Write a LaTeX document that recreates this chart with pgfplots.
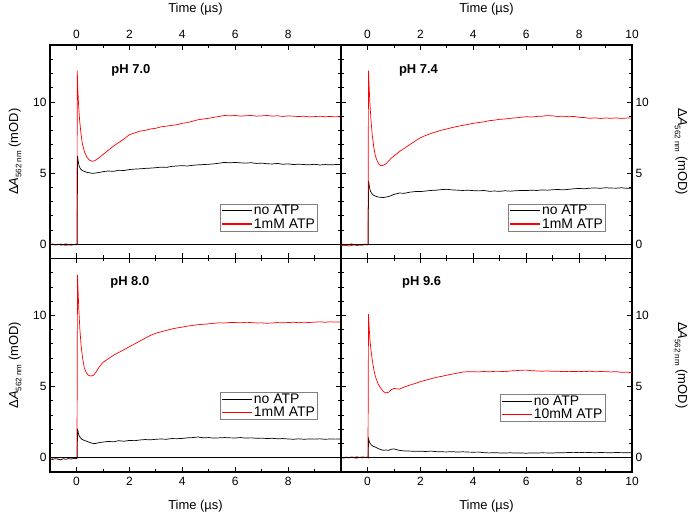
\documentclass[border=0pt]{standalone}
\usepackage{fontspec}
\setmainfont{Liberation Sans}
\usepackage{pgfplots}
\pgfplotsset{compat=1.18}
\pgfplotsset{
 panel/.style={
  width=291bp, height=213.5bp, scale only axis,
  xmin=-1, xmax=10, ymin=-1, ymax=14,
  ytick={0,5,10}, minor ytick={1,2,3,4,6,7,8,9,11,12,13},
  minor xtick={1,3,5,7,9},
  tick align=inside, major tick length=5bp, minor tick length=3bp,
  tick style={black, line width=0.8bp},
  axis line style={line width=1.1bp},
  tick label style={font=\fontsize{12}{14}\selectfont},
  label style={font=\fontsize{13}{15}\selectfont},
  /pgf/number format/assume math mode=true,
  legend style={draw=gray, line width=0.6bp, font=\fontsize{14}{15}\selectfont, inner xsep=1bp, inner ysep=0.5bp, row sep=0.5bp, cells={anchor=west}, nodes={inner xsep=1.5bp, inner ysep=0.8bp}},
  legend image code/.code={\draw[#1] (0bp,0bp) -- (30bp,0bp);},
 },
 toppanel/.style={xticklabel pos=upper, xticklabel style={yshift=3bp},
   xlabel style={at={(axis description cs:0.5,1.1686)}, anchor=center}},
 botpanel/.style={xticklabel style={yshift=-2bp},
   xlabel style={at={(axis description cs:0.5,-0.159)}, anchor=center}},
 leftpanel/.style={ylabel style={at={(axis description cs:-0.12,0.5)}, anchor=center, rotate=0}},
 rightpanel/.style={yticklabel pos=right, ylabel style={at={(axis description cs:1.169,0.5)}, anchor=center, rotate=180}},
 blk/.style={black, line width=0.7bp},
 rd/.style={red, line width=0.7bp},
}
\newcommand{\ylab}{Δ\textit{A}\raisebox{-0.5ex}{\fontsize{8}{9}\selectfont 562 nm} (mOD)}
\newcommand{\phfont}{\bfseries\fontsize{13}{15}\selectfont}
\newcommand{\leg}[1]{\addlegendimage{black, line width=1.2bp}\addlegendentry{no ATP}\addlegendimage{red, line width=1.2bp}\addlegendentry{#1}}
\begin{document}
\begin{tikzpicture}
\useasboundingbox (0,0) rectangle (692bp,519bp);
% ---------------- top left: pH 7.0
\begin{axis}[panel, toppanel, leftpanel, at={(50bp,260.5bp)}, anchor=south west,
  xtick={0,2,4,6,8}, xlabel={Time (µs)}, ylabel={\ylab},
  legend style={at={(axis cs:9.12,0.92)}, anchor=south east}]
\addplot[blk, forget plot] coordinates {(-1,-0.05) (-0.9,0.02) (-0.8,-0.03) (-0.7,0.01) (-0.6,-0.06) (-0.5,-0.02) (-0.4,0.03) (-0.3,-0.04) (-0.2,0.0) (-0.1,-0.03) (0.0,0.01) (0.03,0.0)
(0.04,6.2) (0.07,5.8) (0.1,5.5) (0.15,5.3) (0.2,5.2) (0.3,5.12) (0.4,5.05) (0.5,5.02) (0.6,4.98) (0.7,5.0) (0.8,5.03) (0.9,5.06) (1.0,5.1)
(1.2,5.15) (1.4,5.12) (1.6,5.2) (1.8,5.18) (2.0,5.25) (2.2,5.28) (2.4,5.3) (2.6,5.33) (2.8,5.35) (3.0,5.38) (3.2,5.42) (3.4,5.4) (3.6,5.47) (3.8,5.5) (4.0,5.52) (4.2,5.5) (4.4,5.55) (4.6,5.58) (4.8,5.6) (5.0,5.62) (5.2,5.65) (5.4,5.7) (5.6,5.75) (5.8,5.72) (6.0,5.75) (6.2,5.72) (6.4,5.7) (6.6,5.73) (6.8,5.68) (7.0,5.7) (7.2,5.66) (7.4,5.64) (7.6,5.68) (7.8,5.62) (8.0,5.65) (8.2,5.6) (8.4,5.63) (8.6,5.6) (8.8,5.58) (9.0,5.62) (9.2,5.57) (9.4,5.6) (9.6,5.58) (9.8,5.6) (10.0,5.6)};
\addplot[rd, forget plot] coordinates {(-1,0.03) (-0.9,-0.02) (-0.8,-0.06) (-0.7,-0.03) (-0.6,0.02) (-0.5,-0.05) (-0.4,-0.08) (-0.3,-0.04) (-0.2,-0.07) (-0.1,-0.02) (0.0,-0.04) (0.02,0.0)
(0.03,12.2) (0.05,11.0) (0.08,9.8) (0.12,8.7) (0.17,7.8) (0.22,7.1) (0.3,6.5) (0.4,6.1) (0.5,5.9) (0.6,5.83) (0.7,5.88) (0.8,6.0) (0.9,6.15) (1.0,6.3) (1.2,6.6) (1.4,6.9) (1.6,7.15) (1.8,7.4) (2.0,7.7) (2.2,7.82) (2.4,7.95) (2.6,8.0) (2.8,8.1) (3.0,8.15) (3.2,8.25) (3.4,8.3) (3.6,8.35) (3.8,8.4) (4.0,8.5) (4.2,8.55) (4.4,8.65) (4.6,8.75) (4.8,8.8) (5.0,8.85) (5.2,8.92) (5.4,8.98) (5.6,9.05) (5.8,9.02) (6.0,9.05) (6.2,9.0) (6.4,9.03) (6.6,9.05) (6.8,9.0) (7.0,9.02) (7.2,9.05) (7.4,9.0) (7.6,9.03) (7.8,8.98) (8.0,9.02) (8.2,9.0) (8.4,8.97) (8.6,9.0) (8.8,8.95) (9.0,8.97) (9.2,9.0) (9.4,8.96) (9.6,8.98) (9.8,8.95) (10.0,8.97)};
\addplot[black, line width=0.8bp, forget plot] coordinates {(-1,0) (10,0)};
\leg{1mM ATP}
\node[anchor=west, font=\phfont] at (axis cs:1.19,12.2) {pH 7.0};
\end{axis}
% ---------------- top right: pH 7.4
\begin{axis}[panel, toppanel, rightpanel, at={(341bp,260.5bp)}, anchor=south west,
  xtick={0,2,4,6,8,10}, xlabel={Time (µs)}, ylabel={\ylab},
  legend style={at={(axis cs:9.01,0.92)}, anchor=south east}]
\addplot[blk, forget plot] coordinates {(-1,-0.04) (-0.9,0.01) (-0.8,-0.05) (-0.7,-0.02) (-0.6,0.02) (-0.5,-0.04) (-0.4,-0.01) (-0.3,-0.06) (-0.2,-0.02) (-0.1,0.01) (0.0,-0.02) (0.03,0.0)
(0.04,4.46) (0.07,4.1) (0.1,3.8) (0.15,3.6) (0.2,3.48) (0.3,3.38) (0.4,3.32) (0.5,3.3) (0.6,3.28) (0.7,3.32) (0.8,3.35) (0.9,3.42) (1.0,3.5) (1.2,3.6) (1.4,3.58) (1.6,3.66) (1.8,3.7) (2.0,3.7) (2.2,3.74) (2.4,3.78) (2.6,3.8) (2.8,3.84) (3.0,3.86) (3.2,3.82) (3.4,3.8) (3.6,3.78) (3.8,3.8) (4.0,3.77) (4.2,3.75) (4.4,3.78) (4.6,3.72) (4.8,3.74) (5.0,3.72) (5.2,3.76) (5.4,3.73) (5.6,3.76) (5.8,3.78) (6.0,3.77) (6.2,3.8) (6.4,3.78) (6.6,3.82) (6.8,3.8) (7.0,3.83) (7.2,3.85) (7.4,3.82) (7.6,3.86) (7.8,3.9) (8.0,3.92) (8.2,3.9) (8.4,3.94) (8.6,3.96) (8.8,3.93) (9.0,3.97) (9.2,3.95) (9.4,3.94) (9.6,3.97) (9.8,3.93) (10.0,3.94)};
\addplot[rd, forget plot] coordinates {(-1,-0.06) (-0.9,-0.1) (-0.8,-0.07) (-0.7,-0.12) (-0.6,-0.08) (-0.5,-0.05) (-0.4,-0.09) (-0.3,-0.04) (-0.2,-0.07) (-0.1,-0.03) (0.0,-0.05) (0.02,0.0)
(0.04,12.2) (0.06,11.2) (0.09,10.0) (0.13,8.8) (0.18,7.7) (0.24,6.8) (0.3,6.2) (0.38,5.8) (0.45,5.6) (0.5,5.52) (0.6,5.55) (0.7,5.65) (0.8,5.85) (0.9,6.05) (1.0,6.2) (1.2,6.5) (1.4,6.75) (1.6,7.0) (1.8,7.25) (2.0,7.48) (2.2,7.65) (2.4,7.78) (2.6,7.9) (2.8,8.02) (3.0,8.1) (3.2,8.2) (3.4,8.28) (3.6,8.35) (3.8,8.42) (4.0,8.5) (4.2,8.55) (4.4,8.6) (4.6,8.68) (4.8,8.72) (5.0,8.78) (5.2,8.8) (5.4,8.85) (5.6,8.88) (5.8,8.92) (6.0,8.96) (6.2,8.94) (6.4,8.98) (6.6,9.0) (6.8,9.04) (7.0,9.02) (7.2,8.98) (7.4,9.0) (7.6,8.96) (7.8,8.98) (8.0,8.92) (8.2,8.9) (8.4,8.85) (8.6,8.88) (8.8,8.84) (9.0,8.87) (9.2,8.85) (9.4,8.88) (9.6,8.84) (9.8,8.87) (10.0,8.86)};
\addplot[black, line width=0.8bp, forget plot] coordinates {(-1,0) (10,0)};
\leg{1mM ATP}
\node[anchor=west, font=\phfont] at (axis cs:1.06,12.2) {pH 7.4};
\end{axis}
% ---------------- bottom left: pH 8.0
\begin{axis}[panel, botpanel, leftpanel, at={(50bp,47bp)}, anchor=south west,
  xtick={0,2,4,6,8}, xlabel={Time (µs)}, ylabel={\ylab},
  legend style={at={(axis cs:9.12,2.67)}, anchor=south east}]
\addplot[blk, forget plot] coordinates {(-1,-0.08) (-0.9,-0.12) (-0.8,-0.06) (-0.7,-0.1) (-0.6,-0.14) (-0.5,-0.07) (-0.4,-0.11) (-0.3,-0.05) (-0.2,-0.09) (-0.1,-0.04) (0.0,-0.06) (0.03,0.0)
(0.04,2.05) (0.07,1.75) (0.1,1.55) (0.15,1.4) (0.2,1.3) (0.3,1.22) (0.4,1.15) (0.5,1.08) (0.6,1.02) (0.7,0.99) (0.8,1.04) (0.9,1.08) (1.0,1.1) (1.2,1.15) (1.4,1.12) (1.6,1.2) (1.8,1.16) (2.0,1.22) (2.2,1.2) (2.4,1.25) (2.6,1.28) (2.8,1.26) (3.0,1.3) (3.2,1.32) (3.4,1.3) (3.6,1.35) (3.8,1.34) (4.0,1.36) (4.2,1.4) (4.4,1.42) (4.6,1.46) (4.8,1.4) (5.0,1.42) (5.2,1.38) (5.4,1.4) (5.6,1.42) (5.8,1.4) (6.0,1.39) (6.2,1.42) (6.4,1.38) (6.6,1.4) (6.8,1.37) (7.0,1.38) (7.2,1.35) (7.4,1.37) (7.6,1.33) (7.8,1.35) (8.0,1.32) (8.2,1.3) (8.4,1.33) (8.6,1.3) (8.8,1.32) (9.0,1.31) (9.2,1.33) (9.4,1.3) (9.6,1.32) (9.8,1.31) (10.0,1.32)};
\addplot[rd, forget plot] coordinates {(-1,0.02) (-0.9,-0.03) (-0.8,0.01) (-0.7,-0.02) (-0.6,0.03) (-0.5,-0.01) (-0.4,0.02) (-0.3,-0.03) (-0.2,0.01) (-0.1,-0.02) (0.0,0.02) (0.02,0.0)
(0.04,12.85) (0.06,11.8) (0.09,10.4) (0.13,9.0) (0.18,7.8) (0.24,6.9) (0.3,6.3) (0.38,5.95) (0.45,5.8) (0.55,5.74) (0.65,5.8) (0.75,6.05) (0.85,6.35) (1.0,6.7) (1.2,6.95) (1.4,7.2) (1.6,7.4) (1.8,7.6) (2.0,7.8) (2.2,8.0) (2.4,8.2) (2.6,8.4) (2.8,8.6) (3.0,8.75) (3.2,8.85) (3.4,8.95) (3.6,9.05) (3.8,9.12) (4.0,9.18) (4.2,9.25) (4.4,9.3) (4.6,9.35) (4.8,9.38) (5.0,9.41) (5.2,9.45) (5.4,9.48) (5.6,9.47) (5.8,9.5) (6.0,9.5) (6.2,9.48) (6.4,9.52) (6.6,9.5) (6.8,9.47) (7.0,9.48) (7.2,9.45) (7.4,9.47) (7.6,9.5) (7.8,9.48) (8.0,9.5) (8.2,9.52) (8.4,9.49) (8.6,9.53) (8.8,9.5) (9.0,9.53) (9.2,9.55) (9.4,9.52) (9.6,9.55) (9.8,9.53) (10.0,9.54)};
\addplot[black, line width=0.8bp, forget plot] coordinates {(-1,0) (10,0)};
\leg{1mM ATP}
\node[anchor=west, font=\phfont] at (axis cs:1.15,12.3) {pH 8.0};
\end{axis}
% ---------------- bottom right: pH 9.6
\begin{axis}[panel, botpanel, rightpanel, at={(341bp,47bp)}, anchor=south west,
  xtick={0,2,4,6,8,10}, xlabel={Time (µs)}, ylabel={\ylab},
  legend style={at={(axis cs:8.99,2.53)}, anchor=south east}]
\addplot[blk, forget plot] coordinates {(-1,0.01) (-0.9,-0.02) (-0.8,0.02) (-0.7,-0.01) (-0.6,0.03) (-0.5,0.0) (-0.4,-0.02) (-0.3,0.02) (-0.2,0.0) (-0.1,0.03) (0.0,0.01) (0.03,0.0)
(0.04,1.34) (0.07,1.15) (0.1,1.0) (0.15,0.9) (0.2,0.82) (0.3,0.75) (0.4,0.65) (0.5,0.58) (0.6,0.52) (0.7,0.55) (0.8,0.52) (0.9,0.6) (1.0,0.62) (1.2,0.52) (1.4,0.48) (1.6,0.47) (1.8,0.45) (2.0,0.46) (2.2,0.44) (2.4,0.47) (2.6,0.43) (2.8,0.42) (3.0,0.41) (3.2,0.43) (3.4,0.4) (3.6,0.42) (3.8,0.4) (4.0,0.39) (4.2,0.4) (4.4,0.36) (4.6,0.34) (4.8,0.36) (5.0,0.34) (5.2,0.33) (5.4,0.35) (5.6,0.33) (5.8,0.34) (6.0,0.32) (6.2,0.34) (6.4,0.33) (6.6,0.35) (6.8,0.34) (7.0,0.33) (7.2,0.36) (7.4,0.35) (7.6,0.37) (7.8,0.36) (8.0,0.38) (8.2,0.36) (8.4,0.37) (8.6,0.35) (8.8,0.37) (9.0,0.36) (9.2,0.35) (9.4,0.37) (9.6,0.36) (9.8,0.35) (10.0,0.36)};
\addplot[rd, forget plot] coordinates {(-1,0.04) (-0.9,0.01) (-0.8,0.05) (-0.7,0.02) (-0.6,0.06) (-0.5,0.03) (-0.4,0.07) (-0.3,0.03) (-0.2,0.06) (-0.1,0.04) (0.0,0.05) (0.02,0.0)
(0.04,10.1) (0.06,9.3) (0.09,8.4) (0.13,7.6) (0.18,6.9) (0.24,6.2) (0.3,5.7) (0.4,5.2) (0.5,4.9) (0.6,4.65) (0.7,4.56) (0.8,4.6) (0.9,4.78) (1.0,4.87) (1.2,4.82) (1.4,4.98) (1.6,5.1) (1.8,5.22) (2.0,5.35) (2.2,5.45) (2.4,5.55) (2.6,5.65) (2.8,5.72) (3.0,5.8) (3.2,5.88) (3.4,5.95) (3.6,6.02) (3.8,6.05) (4.0,6.05) (4.2,6.03) (4.4,6.06) (4.6,6.04) (4.8,6.07) (5.0,6.07) (5.2,6.05) (5.4,6.1) (5.6,6.12) (5.8,6.15) (6.0,6.16) (6.2,6.12) (6.4,6.1) (6.6,6.08) (6.8,6.1) (7.0,6.07) (7.2,6.08) (7.4,6.05) (7.6,6.07) (7.8,6.06) (8.0,6.07) (8.2,6.05) (8.4,6.08) (8.6,6.04) (8.8,6.06) (9.0,6.05) (9.2,6.03) (9.4,6.05) (9.6,6.0) (9.8,6.02) (10.0,5.98)};
\addplot[black, line width=0.8bp, forget plot] coordinates {(-1,0) (10,0)};
\leg{10mM ATP}
\node[anchor=west, font=\phfont] at (axis cs:1.18,12.3) {pH 9.6};
\end{axis}
\end{tikzpicture}
\end{document}
